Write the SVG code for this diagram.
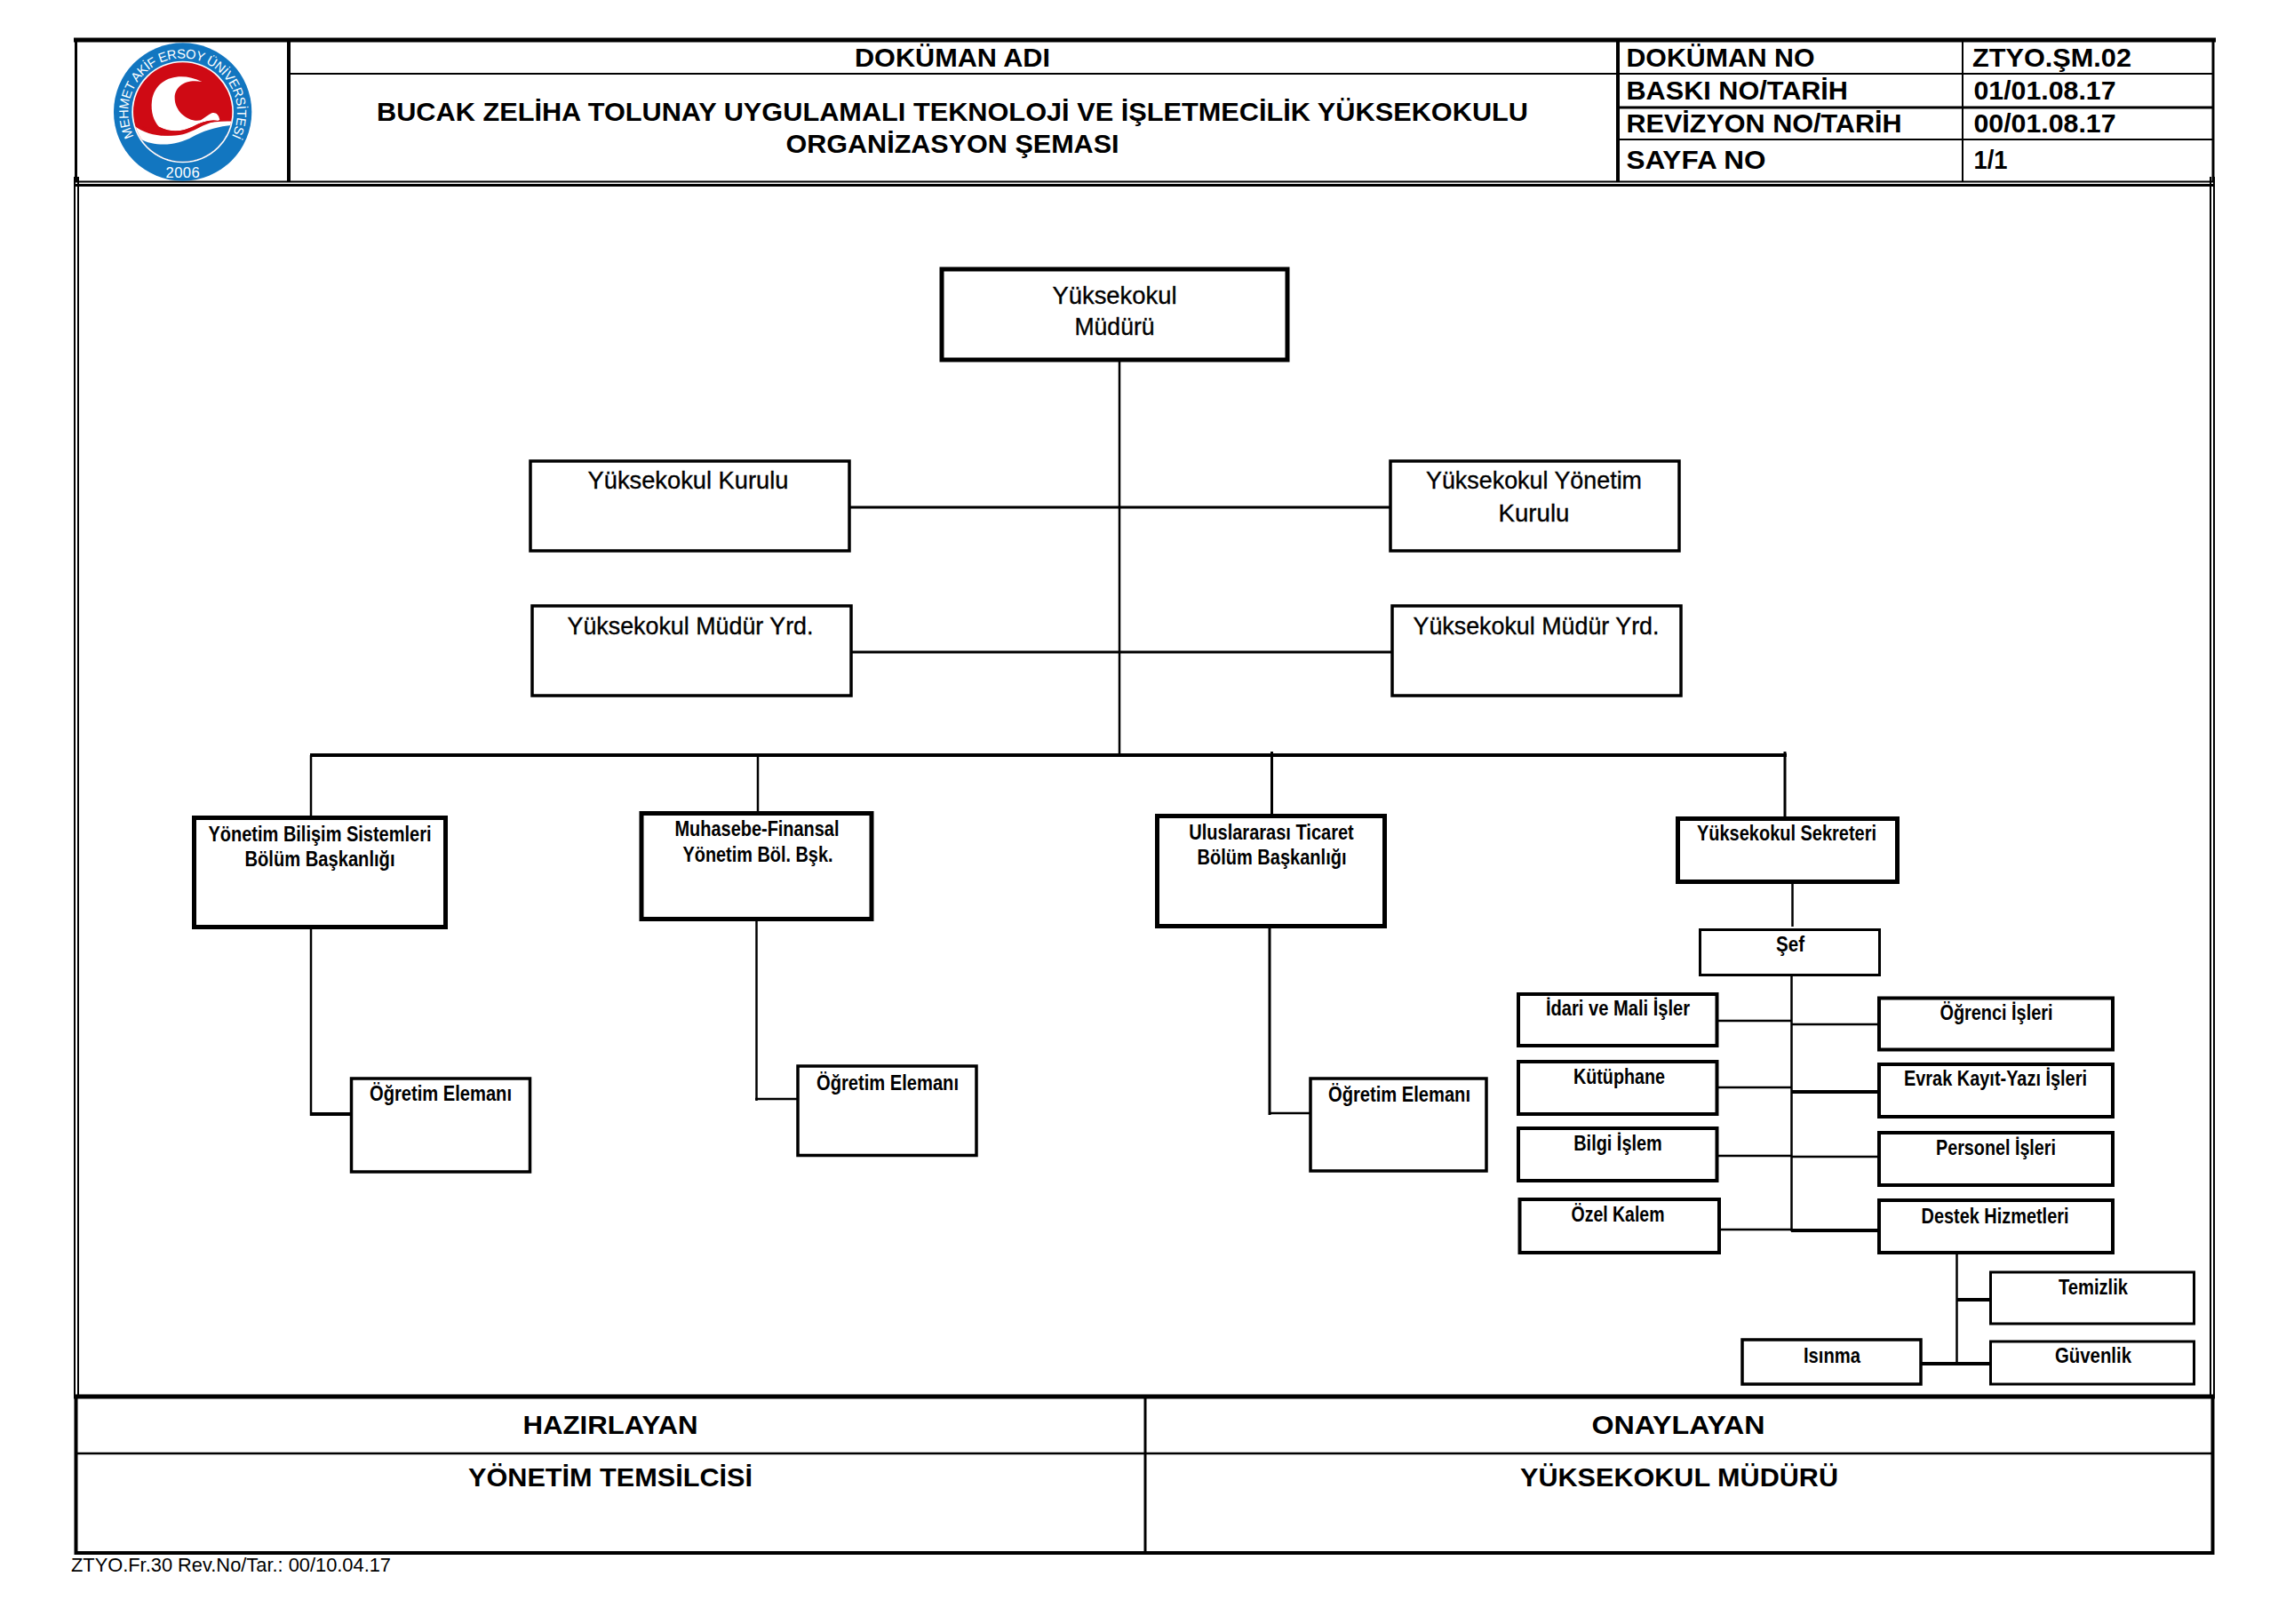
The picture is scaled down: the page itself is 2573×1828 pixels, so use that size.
<svg xmlns="http://www.w3.org/2000/svg" width="2573" height="1828" viewBox="0 0 2573 1828">
<defs>
<style>
text{font-family:"Liberation Sans",Arial,sans-serif;fill:#000;text-anchor:middle}
.h{font-weight:bold;font-size:30px}
.t{font-weight:bold;font-size:30px;text-anchor:start}
.n{font-size:28.5px;stroke:#000;stroke-width:.35}
.s{font-weight:bold;font-size:24px}
.f{font-size:22px;text-anchor:start}
rect{fill:#fff;stroke:#000}
line{stroke:#000;stroke-width:2.5}
.w5{stroke-width:5}.w4{stroke-width:4}.w3{stroke-width:3}.w2{stroke-width:2}
rect.b5{stroke-width:5}rect.b4{stroke-width:4}rect.b3{stroke-width:3}rect.b35{stroke-width:3.5}
</style>
<clipPath id="inner"><circle cx="437" cy="288" r="167"/></clipPath>
<path id="ring" d="M272 372A184 184 0 1 1 602 372"/>
</defs>
<rect x="0" y="0" width="2573" height="1828" style="fill:#fff;stroke:none"/>
<g id="header-frame">
<line class="w5" x1="83" y1="45" x2="2494" y2="45"/>
<line class="w3" x1="85.5" y1="45" x2="85.5" y2="205"/>
<line class="w3" x1="2491" y1="45" x2="2491" y2="205"/>
<line class="w4" x1="325" y1="45" x2="325" y2="205"/>
<line class="w4" x1="1821" y1="45" x2="1821" y2="205"/>
<line class="w2" x1="2209" y1="45" x2="2209" y2="205"/>
<line class="w2" x1="325" y1="83" x2="2491" y2="83"/>
<line class="w3" x1="1821" y1="121" x2="2491" y2="121"/>
<line class="w2" x1="1821" y1="157" x2="2491" y2="157"/>
<line class="w2" x1="85" y1="204.500" x2="2491" y2="204.500"/>
<line class="w3" x1="85" y1="208.500" x2="2491" y2="208.500"/>
<line class="w2" x1="84" y1="199" x2="84" y2="1572"/>
<line class="w2" x1="88" y1="199" x2="88" y2="1572"/>
<line class="w2" x1="2488" y1="199" x2="2488" y2="1572"/>
<line class="w2" x1="2492" y1="199" x2="2492" y2="1572"/>
</g>
<g id="logo" transform="translate(60 30) scale(0.3333)">
<circle cx="437" cy="288" r="233" fill="#1276c0"/>
<circle cx="437" cy="288" r="172" fill="#fff"/>
<circle cx="437" cy="288" r="167" fill="#cf0a14"/>
<g clip-path="url(#inner)">
<path fill="#fff" d="M265 328C320 375 400 378 450 352C495 328 535 318 610 320L610 470L265 470Z"/>
<path fill="#1276c0" d="M290 378C350 410 420 400 470 372C510 350 555 336 610 332L610 470L290 470Z"/>
</g>
<path fill="#fff" d="M502 186C430 150 345 170 333 250C328 290 340 320 357 338C400 362 440 352 470 338C500 322 530 312 556 318L562 314C558 296 548 288 535 292C525 296 512 308 498 316C460 325 410 290 410 240C410 200 450 175 502 186Z"/>
<path fill="#cf0a14" d="M300 338C340 342 350 338 357 338C400 360 440 352 470 338C500 322 530 312 560 318C520 322 490 345 450 360C400 378 340 365 300 338Z"/>
<text font-size="44" style="fill:#fff;text-anchor:start"><textPath href="#ring" textLength="745">MEHMET AKİF ERSOY ÜNİVERSİTESİ</textPath></text>
<text x="437" y="510" font-size="50" textLength="115" style="fill:#fff">2006</text>
</g>
<g id="header-text">
<text class="h" x="1072" y="74.500" textLength="220" lengthAdjust="spacingAndGlyphs">DOKÜMAN ADI</text>
<text class="h" x="1072" y="135.500" textLength="1296" lengthAdjust="spacingAndGlyphs">BUCAK ZELİHA TOLUNAY UYGULAMALI TEKNOLOJİ VE İŞLETMECİLİK YÜKSEKOKULU</text>
<text class="h" x="1072" y="171.500" textLength="375" lengthAdjust="spacingAndGlyphs">ORGANİZASYON ŞEMASI</text>
<text class="t" x="1830.500" y="74.500" textLength="212" lengthAdjust="spacingAndGlyphs">DOKÜMAN NO</text>
<text class="t" x="1830.500" y="111.500" textLength="249.500" lengthAdjust="spacingAndGlyphs">BASKI NO/TARİH</text>
<text class="t" x="1830.500" y="148.500" textLength="310" lengthAdjust="spacingAndGlyphs">REVİZYON NO/TARİH</text>
<text class="t" x="1830.500" y="190" textLength="157" lengthAdjust="spacingAndGlyphs">SAYFA NO</text>
<text class="t" x="2220" y="74.500" textLength="179" lengthAdjust="spacingAndGlyphs">ZTYO.ŞM.02</text>
<text class="t" x="2221.500" y="111.500" textLength="160" lengthAdjust="spacingAndGlyphs">01/01.08.17</text>
<text class="t" x="2221.500" y="148.500" textLength="160" lengthAdjust="spacingAndGlyphs">00/01.08.17</text>
<text class="t" x="2221.500" y="190" textLength="38" lengthAdjust="spacingAndGlyphs">1/1</text>
</g>
<g id="connectors">
<line x1="1260" y1="405" x2="1260" y2="850"/>
<line class="w3" x1="955" y1="571" x2="1565" y2="571"/>
<line class="w3" x1="957" y1="734" x2="1567" y2="734"/>
<line class="w4" x1="349" y1="850" x2="2011" y2="850"/>
<line x1="350" y1="850" x2="350" y2="920"/>
<line x1="853" y1="850" x2="853" y2="915"/>
<line class="w3" x1="1431.500" y1="846" x2="1431.500" y2="918"/>
<line class="w3" x1="2009" y1="846" x2="2009" y2="921"/>
<line x1="350" y1="1043" x2="350" y2="1256"/>
<line class="w4" x1="349" y1="1254" x2="395" y2="1254"/>
<line x1="851.500" y1="1034" x2="851.500" y2="1239"/>
<line x1="850" y1="1237" x2="898" y2="1237"/>
<line class="w3" x1="1429" y1="1042" x2="1429" y2="1255"/>
<line x1="1428" y1="1253" x2="1475" y2="1253"/>
<line x1="2017.500" y1="992" x2="2017.500" y2="1043"/>
<line x1="2016.500" y1="1097" x2="2016.500" y2="1386"/>
<line x1="1932" y1="1149" x2="2016" y2="1149"/>
<line x1="2016" y1="1153" x2="2115" y2="1153"/>
<line x1="1932" y1="1224" x2="2016" y2="1224"/>
<line class="w4" x1="2016" y1="1229" x2="2115" y2="1229"/>
<line x1="1932" y1="1301" x2="2016" y2="1301"/>
<line x1="2016" y1="1302" x2="2115" y2="1302"/>
<line x1="1935" y1="1384" x2="2016" y2="1384"/>
<line class="w4" x1="2016" y1="1385" x2="2115" y2="1385"/>
<line x1="2202.500" y1="1406" x2="2202.500" y2="1535"/>
<line class="w4" x1="2203" y1="1463" x2="2240" y2="1463"/>
<line class="w4" x1="2160" y1="1535" x2="2240" y2="1535"/>
</g>
<g id="n-mudur"><rect class="b5" x="1060" y="303" width="389" height="102"/><text class="n" x="1254.500" y="341.500" textLength="140" lengthAdjust="spacingAndGlyphs">Yüksekokul</text><text class="n" x="1254.500" y="376.500" textLength="90" lengthAdjust="spacingAndGlyphs">Müdürü</text></g>
<g id="n-kurul"><rect class="b35" x="597" y="519" width="359" height="101"/><text class="n" x="774.500" y="549.500" textLength="226" lengthAdjust="spacingAndGlyphs">Yüksekokul Kurulu</text></g>
<g id="n-yonetim-kurulu"><rect class="b35" x="1565" y="519" width="325" height="101"/><text class="n" x="1726.500" y="549.500" textLength="243" lengthAdjust="spacingAndGlyphs">Yüksekokul Yönetim</text><text class="n" x="1726.500" y="586.500" textLength="80" lengthAdjust="spacingAndGlyphs">Kurulu</text></g>
<g id="n-yrd-1"><rect class="b35" x="599" y="682" width="359" height="101"/><text class="n" x="777" y="713.500" textLength="277" lengthAdjust="spacingAndGlyphs">Yüksekokul Müdür Yrd.</text></g>
<g id="n-yrd-2"><rect class="b35" x="1567" y="682" width="325" height="101"/><text class="n" x="1729" y="713.500" textLength="277" lengthAdjust="spacingAndGlyphs">Yüksekokul Müdür Yrd.</text></g>
<g id="n-ybs"><rect class="b5" x="218.500" y="920.500" width="283" height="123"/><text class="s" x="360" y="947" textLength="251" lengthAdjust="spacingAndGlyphs">Yönetim Bilişim Sistemleri</text><text class="s" x="360" y="975" textLength="169" lengthAdjust="spacingAndGlyphs">Bölüm Başkanlığı</text></g>
<g id="n-muhasebe"><rect class="b5" x="722" y="915.500" width="259" height="119"/><text class="s" x="852" y="941" textLength="185" lengthAdjust="spacingAndGlyphs">Muhasebe-Finansal</text><text class="s" x="853" y="970" textLength="169" lengthAdjust="spacingAndGlyphs">Yönetim Böl. Bşk.</text></g>
<g id="n-ticaret"><rect class="b5" x="1302.500" y="918.500" width="256" height="124"/><text class="s" x="1431" y="945" textLength="185.500" lengthAdjust="spacingAndGlyphs">Uluslararası Ticaret</text><text class="s" x="1431.500" y="973" textLength="168" lengthAdjust="spacingAndGlyphs">Bölüm Başkanlığı</text></g>
<g id="n-sekreter"><rect class="b5" x="1888.500" y="921.500" width="247" height="71"/><text class="s" x="2011" y="946" textLength="202" lengthAdjust="spacingAndGlyphs">Yüksekokul Sekreteri</text></g>
<g id="n-ogretim-1"><rect class="b35" x="395.500" y="1214" width="201" height="105"/><text class="s" x="496" y="1239" textLength="160" lengthAdjust="spacingAndGlyphs">Öğretim Elemanı</text></g>
<g id="n-ogretim-2"><rect class="b35" x="898" y="1200" width="201" height="100.500"/><text class="s" x="999" y="1227" textLength="160" lengthAdjust="spacingAndGlyphs">Öğretim Elemanı</text></g>
<g id="n-ogretim-3"><rect class="b35" x="1475" y="1214" width="198" height="104"/><text class="s" x="1575" y="1240" textLength="160" lengthAdjust="spacingAndGlyphs">Öğretim Elemanı</text></g>
<g id="n-sef"><rect class="b3" x="1913.500" y="1046.500" width="202" height="51"/><text class="s" x="2015" y="1071" textLength="32" lengthAdjust="spacingAndGlyphs">Şef</text></g>
<g id="n-idari"><rect class="b4" x="1709" y="1119" width="223.500" height="58"/><text class="s" x="1821" y="1143" textLength="162" lengthAdjust="spacingAndGlyphs">İdari ve Mali İşler</text></g>
<g id="n-kutuphane"><rect class="b4" x="1709" y="1195" width="223.500" height="59"/><text class="s" x="1822.500" y="1220" textLength="103" lengthAdjust="spacingAndGlyphs">Kütüphane</text></g>
<g id="n-bilgi"><rect class="b4" x="1709" y="1270" width="223.500" height="59"/><text class="s" x="1821" y="1295" textLength="99.500" lengthAdjust="spacingAndGlyphs">Bilgi İşlem</text></g>
<g id="n-ozel"><rect class="b4" x="1710.500" y="1350" width="224.500" height="60"/><text class="s" x="1821" y="1375" textLength="105" lengthAdjust="spacingAndGlyphs">Özel Kalem</text></g>
<g id="n-ogrenci"><rect class="b4" x="2115" y="1123.500" width="263" height="58"/><text class="s" x="2247" y="1148" textLength="127" lengthAdjust="spacingAndGlyphs">Öğrenci İşleri</text></g>
<g id="n-evrak"><rect class="b4" x="2115" y="1198" width="263" height="59"/><text class="s" x="2246" y="1222" textLength="206" lengthAdjust="spacingAndGlyphs">Evrak Kayıt-Yazı İşleri</text></g>
<g id="n-personel"><rect class="b4" x="2115" y="1275" width="263" height="59"/><text class="s" x="2246.500" y="1300" textLength="135" lengthAdjust="spacingAndGlyphs">Personel İşleri</text></g>
<g id="n-destek"><rect class="b4" x="2115" y="1351" width="263" height="59"/><text class="s" x="2245.500" y="1377" textLength="166" lengthAdjust="spacingAndGlyphs">Destek Hizmetleri</text></g>
<g id="n-temizlik"><rect class="b3" x="2240.500" y="1432" width="229" height="58"/><text class="s" x="2356" y="1457" textLength="78" lengthAdjust="spacingAndGlyphs">Temizlik</text></g>
<g id="n-guvenlik"><rect class="b3" x="2240.500" y="1510" width="229" height="48"/><text class="s" x="2356" y="1534" textLength="86" lengthAdjust="spacingAndGlyphs">Güvenlik</text></g>
<g id="n-isinma"><rect class="b35" x="1961" y="1508" width="201" height="50"/><text class="s" x="2062" y="1534" textLength="64" lengthAdjust="spacingAndGlyphs">Isınma</text></g>
<g id="footer">
<line class="w5" x1="83" y1="1572" x2="2493" y2="1572"/>
<line class="w4" x1="85.500" y1="1572" x2="85.500" y2="1750"/>
<line class="w4" x1="2490.500" y1="1572" x2="2490.500" y2="1750"/>
<line class="w4" x1="84" y1="1748" x2="2492" y2="1748"/>
<line x1="85" y1="1636" x2="2490" y2="1636"/>
<line class="w3" x1="1289" y1="1572" x2="1289" y2="1748"/>
<text class="h" x="687" y="1614" textLength="197" lengthAdjust="spacingAndGlyphs">HAZIRLAYAN</text>
<text class="h" x="687" y="1673" textLength="320" lengthAdjust="spacingAndGlyphs">YÖNETİM TEMSİLCİSİ</text>
<text class="h" x="1889" y="1614" textLength="195" lengthAdjust="spacingAndGlyphs">ONAYLAYAN</text>
<text class="h" x="1890" y="1673" textLength="358" lengthAdjust="spacingAndGlyphs">YÜKSEKOKUL MÜDÜRÜ</text>
<text class="f" x="80" y="1769" textLength="360" lengthAdjust="spacingAndGlyphs">ZTYO.Fr.30 Rev.No/Tar.: 00/10.04.17</text>
</g>
</svg>
